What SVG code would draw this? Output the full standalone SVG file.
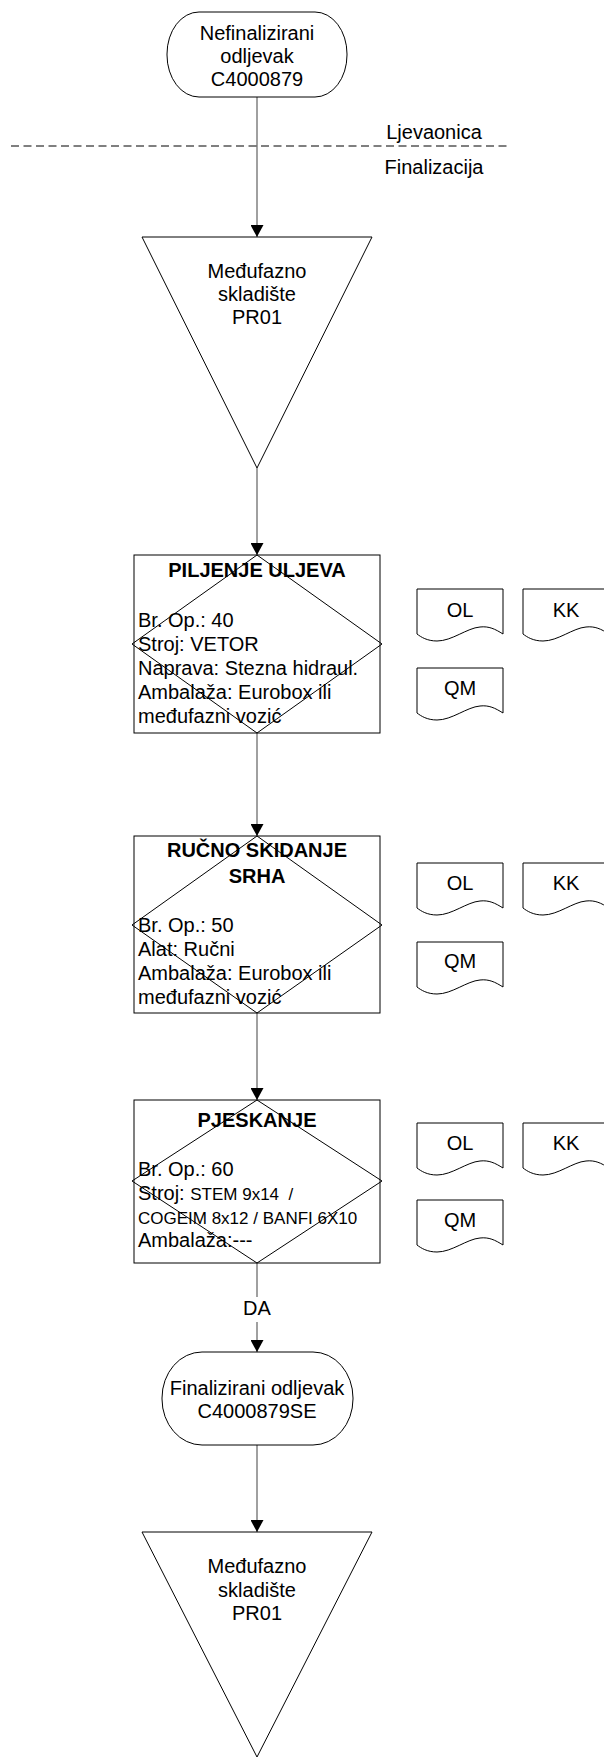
<svg xmlns="http://www.w3.org/2000/svg" width="604" height="1760" viewBox="0 0 604 1760">
<style>
text{font-family:"Liberation Sans",Arial,sans-serif;font-size:20px;fill:#000}
.c{text-anchor:middle}
.b{font-weight:bold}
.s{font-size:17px}
.sh{fill:#fff;stroke:#000;stroke-width:1}
.dm{fill:none;stroke:#000;stroke-width:1}
.cn{stroke:#808080;stroke-width:1.5;fill:none}
</style>
<defs>
<marker id="ah" markerUnits="userSpaceOnUse" markerWidth="12" markerHeight="13" refX="12" refY="6.5" orient="auto">
<path d="M0,0 L12,6.5 L0,13 Z" fill="#000"/>
</marker>
<path id="doc" d="M0,0 H86 V45 C78,40 72,37 63,38 C50,39 35,52 20,52 C10,52 4,48 0,45 Z" class="sh"/>
</defs>
<rect width="604" height="1760" fill="#fff"/>

<g id="connectors">
<line class="cn" x1="257" y1="97" x2="257" y2="237" marker-end="url(#ah)"/>
<line class="cn" x1="257" y1="468" x2="257" y2="555" marker-end="url(#ah)"/>
<line class="cn" x1="257" y1="733" x2="257" y2="836" marker-end="url(#ah)"/>
<line class="cn" x1="257" y1="1013" x2="257" y2="1100" marker-end="url(#ah)"/>
<line class="cn" x1="257" y1="1263" x2="257" y2="1297"/>
<line class="cn" x1="257" y1="1322" x2="257" y2="1352" marker-end="url(#ah)"/>
<text class="c" x="257" y="1315">DA</text>
<line class="cn" x1="257" y1="1445" x2="257" y2="1532" marker-end="url(#ah)"/>
</g>

<g id="swimlane">
<line x1="11" y1="146" x2="510" y2="146" stroke="#000" stroke-width="1" stroke-dasharray="8 4.5"/>
<text class="c" x="434" y="139">Ljevaonica</text>
<text class="c" x="434" y="174">Finalizacija</text>
</g>

<g id="start">
<rect class="sh" x="167" y="12" width="180" height="85" rx="32" ry="42"/>
<text class="c" x="257" y="40">Nefinalizirani</text>
<text class="c" x="257" y="63">odljevak</text>
<text class="c" x="257" y="86">C4000879</text>
</g>

<g id="store1">
<path class="sh" d="M142,237 H372 L257,468 Z"/>
<text class="c" x="257" y="278">Međufazno</text>
<text class="c" x="257" y="301">skladište</text>
<text class="c" x="257" y="324">PR01</text>
</g>

<g id="op40">
<rect class="sh" x="134" y="555" width="246" height="178"/>
<path class="dm" d="M257,555 L382,644 L257,733 L132,644 Z"/>
<text class="c b" x="257" y="577">PILJENJE ULJEVA</text>
<text x="138" y="627">Br. Op.: 40</text>
<text x="138" y="651">Stroj: VETOR</text>
<text x="138" y="675">Naprava: Stezna hidraul.</text>
<text x="138" y="699">Ambalaža: Eurobox ili</text>
<text x="138" y="723">međufazni vozić</text>
</g>

<g id="docs40">
<use href="#doc" x="417" y="589"/>
<text class="c" x="460" y="617">OL</text>
<use href="#doc" x="523" y="589"/>
<text class="c" x="566" y="617">KK</text>
<use href="#doc" x="417" y="668"/>
<text class="c" x="460" y="695">QM</text>
</g>

<g id="op50">
<rect class="sh" x="134" y="836" width="246" height="177"/>
<path class="dm" d="M257,836 L382,925 L257,1013 L132,925 Z"/>
<text class="c b" x="257" y="857">RUČNO SKIDANJE</text>
<text class="c b" x="257" y="883">SRHA</text>
<text x="138" y="932">Br. Op.: 50</text>
<text x="138" y="956">Alat: Ručni</text>
<text x="138" y="980">Ambalaža: Eurobox ili</text>
<text x="138" y="1004">međufazni vozić</text>
</g>

<g id="docs50">
<use href="#doc" x="417" y="863"/>
<text class="c" x="460" y="890">OL</text>
<use href="#doc" x="523" y="863"/>
<text class="c" x="566" y="890">KK</text>
<use href="#doc" x="417" y="942"/>
<text class="c" x="460" y="968">QM</text>
</g>

<g id="op60">
<rect class="sh" x="134" y="1100" width="246" height="163"/>
<path class="dm" d="M257,1100 L382,1181 L257,1263 L132,1181 Z"/>
<text class="c b" x="257" y="1127">PJESKANJE</text>
<text x="138" y="1176">Br. Op.: 60</text>
<text x="138" y="1200" xml:space="preserve">Stroj: <tspan class="s">STEM 9x14  /</tspan></text>
<text x="138" y="1224" class="s">COGEIM 8x12 / BANFI 6X10</text>
<text x="138" y="1247">Ambalaža:---</text>
</g>

<g id="docs60">
<use href="#doc" x="417" y="1123"/>
<text class="c" x="460" y="1150">OL</text>
<use href="#doc" x="523" y="1123"/>
<text class="c" x="566" y="1150">KK</text>
<use href="#doc" x="417" y="1200"/>
<text class="c" x="460" y="1227">QM</text>
</g>

<g id="end">
<rect class="sh" x="162" y="1352" width="191" height="93" rx="40" ry="46"/>
<text class="c" x="257" y="1395">Finalizirani odljevak</text>
<text class="c" x="257" y="1418">C4000879SE</text>
</g>

<g id="store2">
<path class="sh" d="M142,1532 H372 L257,1757 Z"/>
<text class="c" x="257" y="1573">Međufazno</text>
<text class="c" x="257" y="1597">skladište</text>
<text class="c" x="257" y="1620">PR01</text>
</g>
</svg>
